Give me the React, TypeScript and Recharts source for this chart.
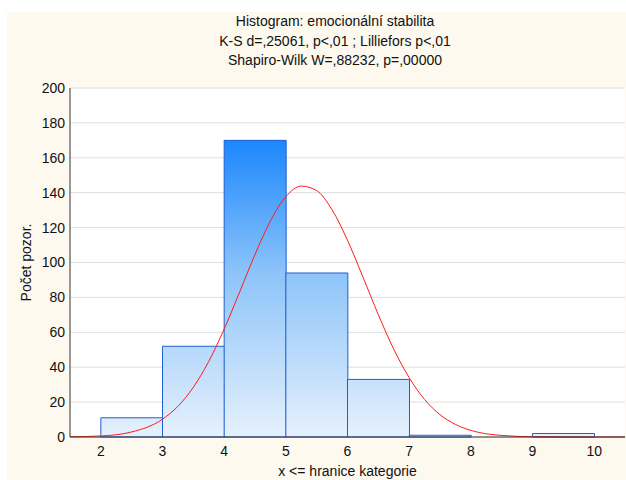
import { ComposedChart, Bar, Line, XAxis, YAxis, CartesianGrid } from 'recharts';

// histogram bins (upper bound = x <= hranice kategorie)
const binMids = [2.5, 3.5, 4.5, 5.5, 6.5, 7.5, 8.5, 9.5];
const binCounts = [11, 52, 170, 94, 33, 1, 0, 2];

// fitted normal curve
const curveX = [1.5, 2, 2.5, 3, 3.25, 3.5, 3.75, 4, 4.25, 4.5, 4.75, 5, 5.25, 5.5, 5.75, 6, 6.25, 6.5, 6.75, 7, 7.25, 7.5, 7.75, 8, 8.5, 9, 9.5, 10, 10.5];
const curveY = [0.1, 0.6, 2.9, 10.2, 17.6, 28.5, 43.3, 61.9, 83, 104.6, 123.8, 137.7, 143.8, 141.2, 130.2, 112.7, 91.7, 70.1, 50.3, 34, 21.5, 12.8, 7.2, 3.8, 0.9, 0.15, 0.02, 0, 0];

const xTicks = [2, 3, 4, 5, 6, 7, 8, 9, 10];
const yTicks = [0, 20, 40, 60, 80, 100, 120, 140, 160, 180, 200];
const topTicks = [1, 2, 3, 4, 5, 6, 7, 8, 9, 10, 11];

const titleLines = [
    'Histogram: emocionální stabilita',
    'K-S d=,25061, p<,01 ; Lilliefors p<,01',
    'Shapiro-Wilk W=,88232, p=,00000',
];

const font = '"Liberation Sans", Arial, sans-serif';
const noLabel = () => <g />;

const App = () => {
    const bins = binMids.map((mid, i) => ({ mid, count: binCounts[i] }));
    const curve = curveX.map((x, i) => ({ x, y: curveY[i] }));

    return (
        <div style={{ position: 'absolute', left: 0, top: 0, width: 626, height: 480, background: '#fff', overflow: 'hidden', fontFamily: font }}>
            <div style={{ position: 'absolute', left: 7, top: 12, width: 619, height: 468, background: '#fdf9ef' }} />
            <div style={{ position: 'absolute', left: 135, top: 12, width: 400, textAlign: 'center', fontSize: 14, lineHeight: '19.5px', color: '#111' }}>
                {titleLines.map((t) => (
                    <div key={t}>{t}</div>
                ))}
            </div>
            <div style={{ position: 'absolute', left: 0, top: 0 }}>
                <ComposedChart
                    width={626}
                    height={480}
                    data={bins}
                    margin={{ top: 88, right: 1, bottom: 0, left: 0 }}
                    barCategoryGap={0}
                    barGap={0}
                >
                    <defs>
                        <linearGradient id="barFill" gradientUnits="userSpaceOnUse" x1={0} y1={141} x2={0} y2={437}>
                            <stop offset="0%" stopColor="#1c87fd" />
                            <stop offset="45%" stopColor="#8ec4f9" />
                            <stop offset="100%" stopColor="#e6f1fd" />
                        </linearGradient>
                    </defs>
                    <CartesianGrid vertical={false} stroke="#dedede" fill="#ffffff" />
                    <XAxis xAxisId="bins" type="number" dataKey="mid" domain={[1.5, 10.5]} allowDataOverflow hide height={0} />
                    {/* inside tick marks on the bottom edge */}
                    <XAxis
                        xAxisId="bottomTicks"
                        type="number"
                        domain={[1.5, 10.5]}
                        ticks={xTicks}
                        allowDataOverflow
                        height={0}
                        mirror
                        axisLine={false}
                        tick={noLabel}
                        tickSize={3}
                        tickLine={{ stroke: '#333' }}
                    />
                    <XAxis
                        xAxisId="main"
                        type="number"
                        dataKey="x"
                        domain={[1.5, 10.5]}
                        ticks={xTicks}
                        allowDataOverflow
                        height={43}
                        tickLine={false}
                        tickSize={0}
                        tickMargin={9}
                        axisLine={{ stroke: '#333' }}
                        tick={{ fill: '#111', fontSize: 14, fontFamily: font }}
                        label={{ value: 'x <= hranice kategorie', position: 'insideBottom', offset: 4, fill: '#111', fontSize: 14, fontFamily: font }}
                    />
                    <XAxis
                        xAxisId="top"
                        orientation="top"
                        type="number"
                        domain={[0.69, 11.49]}
                        ticks={topTicks}
                        allowDataOverflow
                        height={0}
                        mirror
                        tick={noLabel}
                        tickSize={4}
                        axisLine={{ stroke: '#333' }}
                        tickLine={{ stroke: '#333' }}
                    />
                    <YAxis
                        type="number"
                        domain={[0, 200]}
                        ticks={yTicks}
                        width={70}
                        tickLine={false}
                        tickSize={0}
                        tickMargin={5}
                        axisLine={{ stroke: '#333' }}
                        tick={{ fill: '#111', fontSize: 14, fontFamily: font }}
                        label={{ value: 'Počet pozor.', angle: -90, position: 'insideLeft', offset: 26, fill: '#111', fontSize: 14, fontFamily: font, style: { textAnchor: 'middle' } }}
                    />
                    {/* inside tick marks on the left edge */}
                    <YAxis
                        yAxisId="leftTicks"
                        type="number"
                        domain={[0, 200]}
                        ticks={yTicks}
                        width={0}
                        mirror
                        axisLine={false}
                        tick={noLabel}
                        tickSize={4}
                        tickLine={{ stroke: '#333' }}
                    />
                    <Bar
                        xAxisId="bins"
                        dataKey="count"
                        fill="url(#barFill)"
                        stroke="#1f5fd0"
                        strokeWidth={1}
                        isAnimationActive={false}
                    />
                    <Line
                        xAxisId="main"
                        data={curve}
                        dataKey="y"
                        type="monotone"
                        stroke="#ff1a1a"
                        strokeWidth={1}
                        dot={false}
                        activeDot={false}
                        isAnimationActive={false}
                    />
                </ComposedChart>
            </div>
        </div>
    );
};

export default App;
